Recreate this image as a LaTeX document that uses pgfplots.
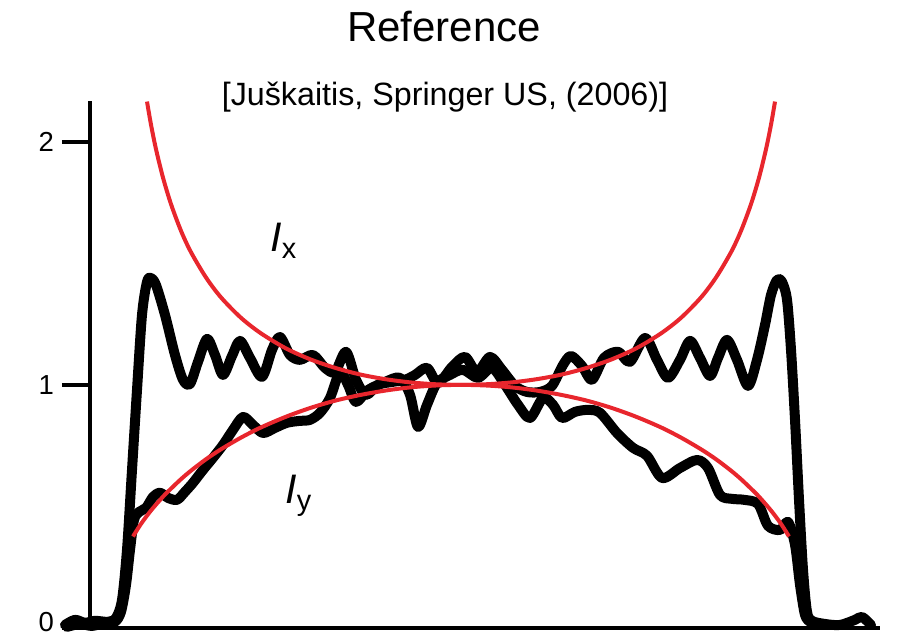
\documentclass[border=0pt]{standalone}
\usepackage{pgfplots}
\pgfplotsset{compat=1.18}
\usepackage{fontspec}
\setmainfont{Liberation Sans}
\definecolor{redc}{RGB}{232,38,45}
\begin{document}
\begin{tikzpicture}
\begin{axis}[
  scale only axis, width=316pt, height=210.9pt,
  xmin=90, xmax=880, ymin=0, ymax=2.17,
  clip=false,
  axis x line*=bottom, axis y line*=left,
  axis line style={line width=1.8pt},
  xtick=\empty, ytick={0,1,2},
  yticklabels={\raisebox{4.4pt}{0},1,2},
  tick align=outside, major tick length=11.2pt,
  tick style={line width=1.8pt, black},
  /pgf/number format/assume math mode=true,
  yticklabel style={font=\fontsize{11}{13}\selectfont, xshift=-3pt, inner sep=0pt},
]
% black measured curves
\addplot[black, line width=4pt, line join=round, line cap=round, smooth, tension=0.5] coordinates {
(65,0.012)(75,0.033)(85,0.021)(95,0.029)(108,0.025)(116,0.041)(122,0.115)(127,0.321)(132,0.650)(137,0.979)(142,1.288)(147,1.424)(151,1.440)(156,1.411)(165,1.288)(175,1.123)(183,1.021)(190,1.004)(198,1.095)(207,1.189)(215,1.123)(223,1.041)(232,1.119)(240,1.181)(250,1.111)(262,1.033)(272,1.144)(280,1.197)(290,1.123)(300,1.103)(313,1.123)(325,1.070)(335,1.053)(346,1.136)(356,1.021)(366,0.959)(378,1.000)(392,1.012)(405,1.021)(415,1.041)(427,1.070)(438,1.008)(452,1.074)(465,1.115)(477,1.053)(490,1.115)(502,1.062)(515,0.996)(527,0.971)(540,0.971)(552,0.996)(563,1.082)(571,1.119)(582,1.078)(592,1.021)(604,1.111)(618,1.136)(630,1.095)(645,1.193)(657,1.103)(668,1.029)(680,1.103)(690,1.181)(700,1.111)(710,1.037)(718,1.111)(727,1.185)(737,1.103)(748,0.996)(757,1.103)(765,1.247)(771,1.370)(777,1.432)(782,1.424)(787,1.350)(791,1.144)(795,0.856)(799,0.527)(803,0.239)(807,0.066)(812,0.029)(825,0.016)(840,0.012)(855,0.033)(862,0.045)(871,0.012)
};
\addplot[black, line width=4pt, line join=round, line cap=round, smooth, tension=0.5] coordinates {
(67,0.004)(80,0.016)(92,0.008)(105,0.021)(115,0.025)(121,0.066)(126,0.177)(130,0.321)(134,0.444)(139,0.477)(146,0.494)(153,0.539)(160,0.556)(168,0.535)(177,0.527)(185,0.560)(193,0.597)(203,0.650)(213,0.700)(223,0.753)(233,0.815)(243,0.868)(253,0.835)(263,0.802)(275,0.823)(287,0.844)(300,0.852)(310,0.856)(320,0.885)(330,0.946)(340,1.053)(348,1.000)(356,0.930)(368,0.979)(385,1.012)(400,1.029)(410,0.959)(418,0.827)(427,0.918)(437,1.008)(450,1.041)(463,1.062)(478,1.029)(492,1.070)(505,1.000)(518,0.918)(530,0.864)(543,0.946)(553,0.918)(562,0.864)(575,0.889)(588,0.897)(600,0.885)(617,0.802)(633,0.741)(647,0.708)(662,0.617)(680,0.658)(697,0.691)(708,0.658)(720,0.547)(732,0.531)(744,0.527)(758,0.510)(768,0.420)(780,0.403)(788,0.436)(795,0.342)(800,0.177)(805,0.053)(810,0.025)
};
% red theoretical curves
\addplot[redc, line width=1.6pt, smooth] coordinates {
(147,2.166)(151,2.071)(156,1.970)(163,1.853)(171,1.744)(181,1.634)(191,1.546)(206,1.442)(221,1.360)(241,1.276)(261,1.212)(286,1.150)(311,1.104)(336,1.069)(361,1.042)(386,1.023)(411,1.010)(436,1.0025)(461,1.000)(486,1.0025)(511,1.010)(536,1.023)(561,1.042)(586,1.069)(611,1.104)(636,1.150)(661,1.212)(681,1.276)(701,1.360)(716,1.442)(731,1.546)(741,1.634)(751,1.744)(759,1.853)(766,1.970)(771,2.071)(775,2.166)
};
\addplot[redc, line width=1.6pt, smooth] coordinates {
(133,0.376)(141,0.428)(151,0.483)(163,0.540)(171,0.573)(181,0.612)(191,0.647)(206,0.694)(221,0.735)(241,0.783)(261,0.825)(286,0.869)(311,0.906)(336,0.936)(361,0.959)(386,0.977)(411,0.990)(436,0.9975)(461,1.000)(486,0.9975)(511,0.990)(536,0.977)(561,0.959)(586,0.936)(611,0.906)(636,0.869)(661,0.825)(681,0.783)(701,0.735)(716,0.694)(731,0.647)(741,0.612)(751,0.573)(759,0.540)(771,0.483)(781,0.428)(789,0.376)
};
\node[font=\fontsize{16.5}{19}\selectfont] at (axis cs:284,1.593) {\textit{I}\textsubscript{x}};
\node[font=\fontsize{16.5}{19}\selectfont] at (axis cs:299,0.543) {\textit{I}\textsubscript{y}};
\node[font=\fontsize{16.8}{20}\selectfont] at (axis cs:444,2.473) {Reference};
\node[font=\fontsize{12.9}{15}\selectfont] at (axis cs:445,2.185) {[Juškaitis, Springer US, (2006)]};
\coordinate (BL) at (axis cs:0,-0.0288);
\coordinate (TR) at (axis cs:897,2.584);
\end{axis}
\pgfresetboundingbox
\useasboundingbox (BL) rectangle (TR);
\end{tikzpicture}
\end{document}
